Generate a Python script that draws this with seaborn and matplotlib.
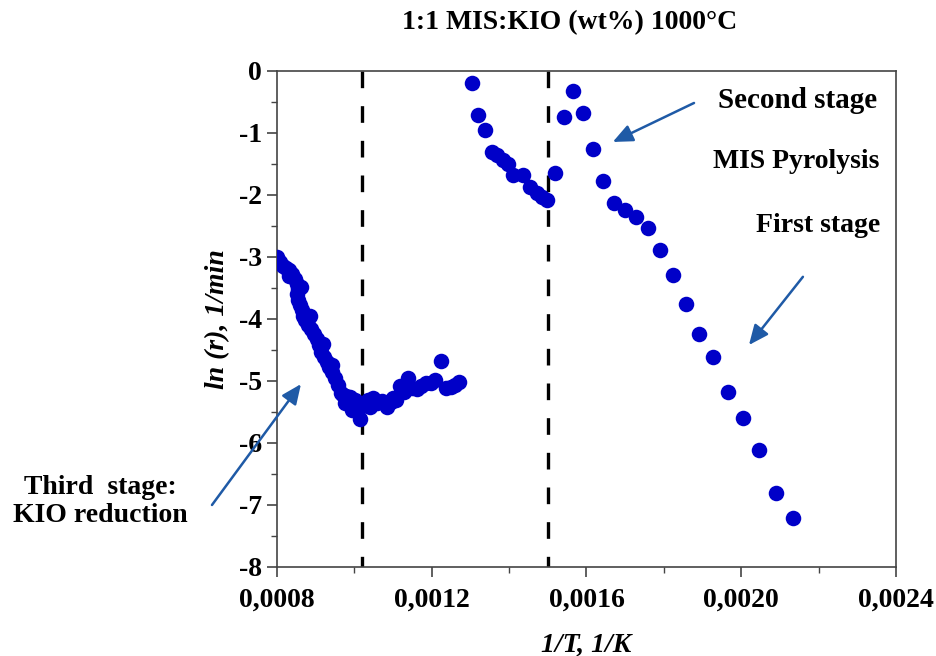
import numpy as np
import pandas as pd
import matplotlib
matplotlib.use("Agg")
import matplotlib.pyplot as plt
from matplotlib.ticker import MultipleLocator
import seaborn as sns

# ln(r) vs 1/T for the 1:1 MIS:KIO mixture at 1000 °C
# Third stage: KIO reduction (high temperature, low 1/T)
third_x = [8.000, 8.078, 8.155, 8.233, 8.310, 8.388, 8.465, 8.517, 8.543, 8.517,
           8.543, 8.594, 8.646, 8.672, 8.724, 8.801, 8.879, 8.956, 9.034, 9.086,
           9.137, 9.215, 9.292, 9.344, 9.422, 9.499, 9.577, 9.654, 9.757, 9.783,
           9.887, 9.938, 9.990, 10.094, 10.145, 10.249, 10.352, 10.481, 10.585, 10.714,
           10.843, 10.946, 11.076, 11.179, 11.282, 11.386, 11.489, 11.618, 11.722, 11.851,
           11.980, 12.084, 12.239, 12.368, 12.497, 12.601, 12.704,
           8.300, 8.620, 8.850, 9.180, 9.420, 9.700, 10.020, 10.400, 11.000]
third_y = [-3.00, -3.08, -3.15, -3.18, -3.21, -3.27, -3.36, -3.44, -3.52, -3.60,
           -3.69, -3.77, -3.86, -3.95, -4.02, -4.10, -4.16, -4.24, -4.32, -4.42,
           -4.53, -4.61, -4.69, -4.77, -4.86, -4.95, -5.07, -5.19, -5.36, -5.24,
           -5.26, -5.47, -5.39, -5.47, -5.61, -5.39, -5.31, -5.27, -5.36, -5.32,
           -5.42, -5.34, -5.31, -5.08, -5.18, -4.95, -5.11, -5.13, -5.08, -5.03,
           -5.03, -4.98, -4.68, -5.11, -5.10, -5.07, -5.02,
           -3.30, -3.48, -3.95, -4.40, -4.74, -5.22, -5.30, -5.42, -5.28]

# Second stage: MIS pyrolysis
second_x = [13.032, 13.200, 13.376, 13.549, 13.678, 13.849, 13.978, 14.108, 14.350,
            14.539, 14.712, 14.841, 14.970]
second_y = [-0.19, -0.71, -0.96, -1.30, -1.36, -1.43, -1.50, -1.68, -1.68,
            -1.87, -1.97, -2.03, -2.08]

# First stage
first_x = [15.178, 15.418, 15.643, 15.901, 16.160, 16.434, 16.710, 16.995, 17.279,
           17.581, 17.907, 18.228, 18.571, 18.907, 19.269, 19.657, 20.044, 20.458,
           20.890, 21.329]
first_y = [-1.65, -0.75, -0.33, -0.67, -1.26, -1.77, -2.13, -2.24, -2.35,
           -2.53, -2.89, -3.29, -3.76, -4.25, -4.61, -5.18, -5.60, -6.11,
           -6.81, -7.21]

# stage boundaries (1/T, 1/K)
boundaries = [0.00102, 0.00150]

x_ticks = [0.0008, 0.0012, 0.0016, 0.0020, 0.0024]
x_tick_labels = ["0,0008", "0,0012", "0,0016", "0,0020", "0,0024"]
y_ticks = [0, -1, -2, -3, -4, -5, -6, -7, -8]
y_tick_labels = ["0", "-1", "-2", "-3", "-4", "-5", "-6", "-7", "-8"]

df = pd.DataFrame({
    "invT": np.array(third_x + second_x + first_x) * 1e-4,
    "lnr": third_y + second_y + first_y,
})

sns.set_theme(style="ticks")
plt.rcParams["font.family"] = ["Liberation Serif", "DejaVu Serif"]
plt.rcParams["axes.unicode_minus"] = False
plt.rcParams["text.color"] = "black"
plt.rcParams["axes.labelcolor"] = "black"
plt.rcParams["xtick.labelcolor"] = "black"
plt.rcParams["ytick.labelcolor"] = "black"

fig = plt.figure(figsize=(9.37, 6.56), dpi=100)
ax = fig.add_axes([0.2956, 0.1357, 0.6606, 0.7561])

dot = "#0000C8"
sns.scatterplot(data=df, x="invT", y="lnr", ax=ax, s=125, color=dot,
                edgecolor=dot, linewidth=0, zorder=3)

for b in boundaries:
    ax.plot([b, b], [0, -8], color="black", lw=2.4,
            linestyle=(0, (5.0, 5.4)), zorder=2)

ax.set_xlim(0.0008, 0.0024)
ax.set_ylim(-8, 0)
ax.set_xticks(x_ticks)
ax.set_xticklabels(x_tick_labels)
ax.set_yticks(y_ticks)
ax.set_yticklabels(y_tick_labels)
ax.xaxis.set_minor_locator(MultipleLocator(0.0002))
ax.yaxis.set_minor_locator(MultipleLocator(0.5))

spine_col = "#444444"
for s in ax.spines.values():
    s.set_color(spine_col)
    s.set_linewidth(1.2)
ax.tick_params(which="major", direction="out", length=7, width=1.2,
               color=spine_col, labelcolor="black", labelsize=20, pad=4)
ax.tick_params(which="minor", direction="out", length=4, width=1.0,
               color=spine_col)
for lab in ax.get_xticklabels() + ax.get_yticklabels():
    lab.set_fontweight("bold")
ax.xaxis.set_tick_params(pad=8)

ax.set_xlabel("1/T, 1/K", fontsize=20, fontweight="bold", style="italic",
              labelpad=14, color="black")
ax.set_ylabel("ln (r), 1/min", fontsize=20, fontweight="bold", style="italic",
              labelpad=6, color="black")

fig.text(570 / 937, 1 - 23 / 656, "1:1 MIS:KIO (wt%) 1000°C", ha="center",
         va="center", fontsize=20, fontweight="bold", color="black")

# stage labels
lab_kw = dict(fontsize=20, fontweight="bold", color="black")
ax.text(0.970, 0.94, "Second stage", transform=ax.transAxes, ha="right",
        va="center", fontsize=21, fontweight="bold", color="black")
ax.text(0.974, 0.817, "MIS Pyrolysis", transform=ax.transAxes, ha="right",
        va="center", **lab_kw)
ax.text(0.974, 0.6875, "First stage", transform=ax.transAxes, ha="right",
        va="center", **lab_kw)
fig.text(100 / 937, 1 - 487 / 656, "Third  stage:", ha="center", va="center",
         **lab_kw)
fig.text(100 / 937, 1 - 516 / 656, "KIO reduction", ha="center", va="center",
         **lab_kw)

arrow_col = "#1F5AA6"
aprops = dict(arrowstyle="-|>,head_length=0.5,head_width=0.22", color=arrow_col,
              lw=1.8, mutation_scale=24, shrinkA=0, shrinkB=0)
ax.annotate("", xy=(0.001668, -1.145), xytext=(0.001878, -0.516),
            arrowprops=aprops, annotation_clip=False)
ax.annotate("", xy=(0.00202, -4.42), xytext=(0.0021595, -3.32),
            arrowprops=aprops, annotation_clip=False)
ax.annotate("", xy=(0.000862, -5.05), xytext=(0.000632, -7.0),
            arrowprops=aprops, annotation_clip=False)

fig.savefig("out.png", dpi=100)
